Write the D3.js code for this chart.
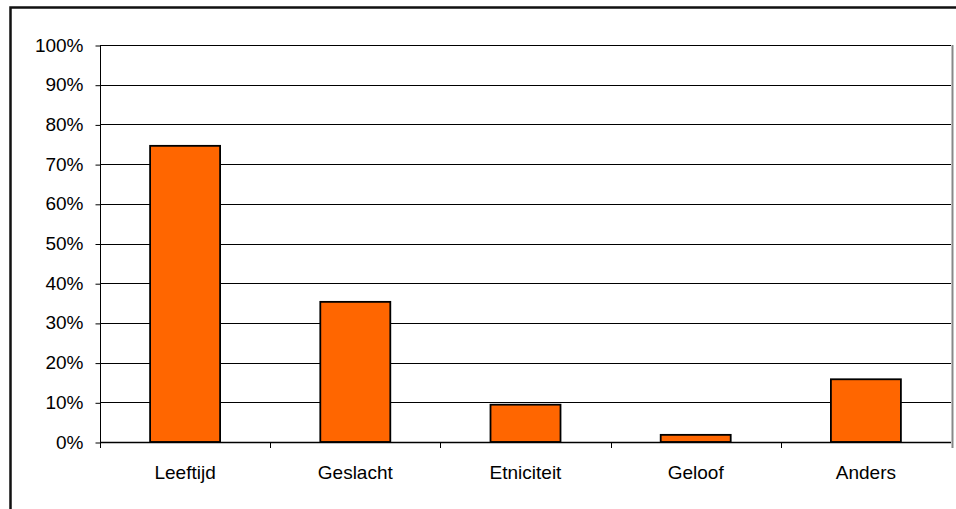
<!DOCTYPE html>
<html>
<head>
<meta charset="utf-8">
<script src="https://cdn.jsdelivr.net/npm/d3@7"></script>
<style>
  html, body { margin: 0; padding: 0; background: #fff; }
  svg { display: block; }
  text { font-family: "Liberation Sans", Arial, sans-serif; fill: #000; }
</style>
</head>
<body>
<svg id="chart" width="956" height="509"></svg>
<script>
// Share of reported grounds
const categories = ["Leeftijd", "Geslacht", "Etniciteit", "Geloof", "Anders"];
const values = [0.746, 0.353, 0.094, 0.018, 0.158];
const yTicks = [0, 0.1, 0.2, 0.3, 0.4, 0.5, 0.6, 0.7, 0.8, 0.9, 1.0];

const svg = d3.select("#chart");
const plot = { left: 100, top: 45, right: 951, bottom: 442 };

// Outer chart frame (top and left edges visible)
svg.append("path")
  .attr("d", "M10.5,509 V7.5 H956")
  .attr("fill", "none")
  .attr("stroke", "#111")
  .attr("stroke-width", 2.5);

const x = d3.scaleBand().domain(categories).range([plot.left, plot.right]).paddingInner(0).paddingOuter(0);
const y = d3.scaleLinear().domain([0, 1]).range([plot.bottom, plot.top]);

// Horizontal gridlines
svg.append("g")
  .selectAll("line")
  .data(yTicks.filter(d => d > 0))
  .join("line")
  .attr("x1", plot.left).attr("x2", plot.right)
  .attr("y1", d => Math.round(y(d)) + 0.5).attr("y2", d => Math.round(y(d)) + 0.5)
  .attr("stroke", "#000").attr("stroke-width", 1);

// Plot area right edge
svg.append("line")
  .attr("x1", plot.right + 1.5).attr("x2", plot.right + 1.5)
  .attr("y1", plot.top).attr("y2", plot.bottom + 6)
  .attr("stroke", "#888").attr("stroke-width", 2);

// Bars
const barW = 70;
svg.append("g")
  .selectAll("rect")
  .data(categories.map((c, i) => ({ c, v: values[i] })))
  .join("rect")
  .attr("x", d => x(d.c) + x.bandwidth() / 2 - barW / 2)
  .attr("y", d => y(d.v))
  .attr("width", barW)
  .attr("height", d => y(0) - y(d.v))
  .attr("fill", "#FF6600")
  .attr("stroke", "#000")
  .attr("stroke-width", 1.8);

// Y axis
const yAxis = d3.axisLeft(y).tickValues(yTicks).tickFormat(d3.format(".0%")).tickSize(5).tickPadding(12);
const gy = svg.append("g").attr("transform", `translate(${plot.left + 0.5},0)`).call(yAxis);
gy.select(".domain").attr("d", `M0,${plot.top}V${plot.bottom}`).attr("stroke", "#000");
gy.selectAll(".tick line").attr("stroke", "#000").attr("transform", "translate(0,0.5)");
gy.selectAll(".tick text").attr("font-size", 19).attr("font-family", "Liberation Sans, Arial, sans-serif").attr("fill", "#000");

// X axis: baseline with ticks at category boundaries
const gx = svg.append("g");
gx.append("line")
  .attr("x1", plot.left).attr("x2", plot.right)
  .attr("y1", plot.bottom + 0.5).attr("y2", plot.bottom + 0.5)
  .attr("stroke", "#000").attr("stroke-width", 1.5);
const bounds = categories.map(c => x(c)).concat([plot.right]);
gx.selectAll("line.tk")
  .data(bounds.slice(0, -1))
  .join("line")
  .attr("class", "tk")
  .attr("x1", d => Math.round(d) + 0.5).attr("x2", d => Math.round(d) + 0.5)
  .attr("y1", plot.bottom).attr("y2", plot.bottom + 6)
  .attr("stroke", "#000");
gx.selectAll("text")
  .data(categories)
  .join("text")
  .attr("x", d => x(d) + x.bandwidth() / 2)
  .attr("y", 479)
  .attr("text-anchor", "middle")
  .attr("font-size", 19)
  .text(d => d);
</script>
</body>
</html>
